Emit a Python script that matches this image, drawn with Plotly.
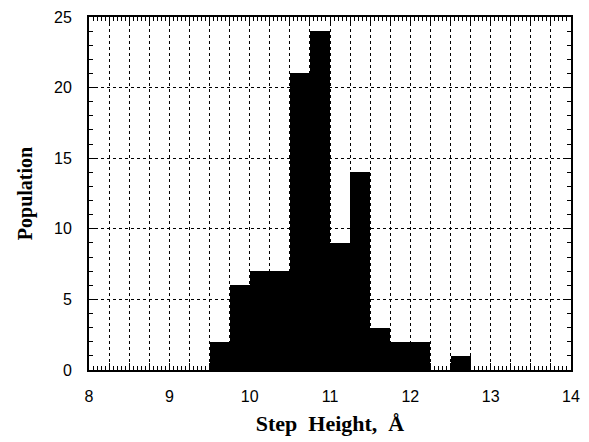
import numpy as np
import plotly.graph_objects as go

# Histogram data: bin left edges (Å) and counts
bin_left = [9.5, 9.75, 10.0, 10.25, 10.5, 10.75, 11.0, 11.25, 11.5, 11.75, 12.0, 12.25, 12.5]
counts = [2, 6, 7, 7, 21, 24, 9, 14, 3, 2, 2, 0, 1]
bin_width = 0.25

x_tick_vals = list(np.arange(8, 14.001, 0.25))
x_tick_text = [str(int(v)) if abs(v - round(v)) < 1e-9 else "" for v in x_tick_vals]
y_tick_vals = [0, 5, 10, 15, 20, 25]

centers = [b + bin_width / 2 for b in bin_left]

fig = go.Figure(go.Bar(
    x=centers, y=counts, width=bin_width,
    marker=dict(color="black", line=dict(width=0)),
    showlegend=False,
))

axis_common = dict(
    showline=True, linecolor="black", linewidth=1.8, mirror="ticks",
    ticks="inside", tickcolor="black",
    showgrid=True, gridcolor="black", gridwidth=1, griddash="dot",
    zeroline=False, automargin=False,
    tickfont=dict(family="Liberation Sans, Arial", size=16, color="black"),
)

fig.update_xaxes(
    **axis_common,
    range=[8, 14],
    tickmode="array", tickvals=x_tick_vals, ticktext=x_tick_text,
    ticklen=7, tickwidth=1.2,
    ticklabelstandoff=11,
    minor=dict(dtick=0.05, tick0=8, ticks="inside", ticklen=4, tickcolor="black", showgrid=False),
    title=dict(text="<b>Step&nbsp; Height,&nbsp; Å</b>",
               font=dict(family="Liberation Serif, Times New Roman", size=22, color="black"),
               standoff=12),
)
fig.update_yaxes(
    **axis_common,
    range=[0, 25],
    tickmode="array", tickvals=y_tick_vals,
    ticklen=8, tickwidth=1.2,
    ticklabelstandoff=12,
    minor=dict(dtick=1, tick0=0, ticks="inside", ticklen=4, tickcolor="black", showgrid=False),
    title=dict(text="<b>Population</b>",
               font=dict(family="Liberation Serif, Times New Roman", size=20, color="black"),
               standoff=16),
)

fig.update_layout(
    width=589, height=442,
    margin=dict(l=89, r=18, t=17, b=72),
    paper_bgcolor="white", plot_bgcolor="white",
    bargap=0,
    font=dict(family="Liberation Sans, Arial", color="black"),
)

fig.write_html("out.html")
